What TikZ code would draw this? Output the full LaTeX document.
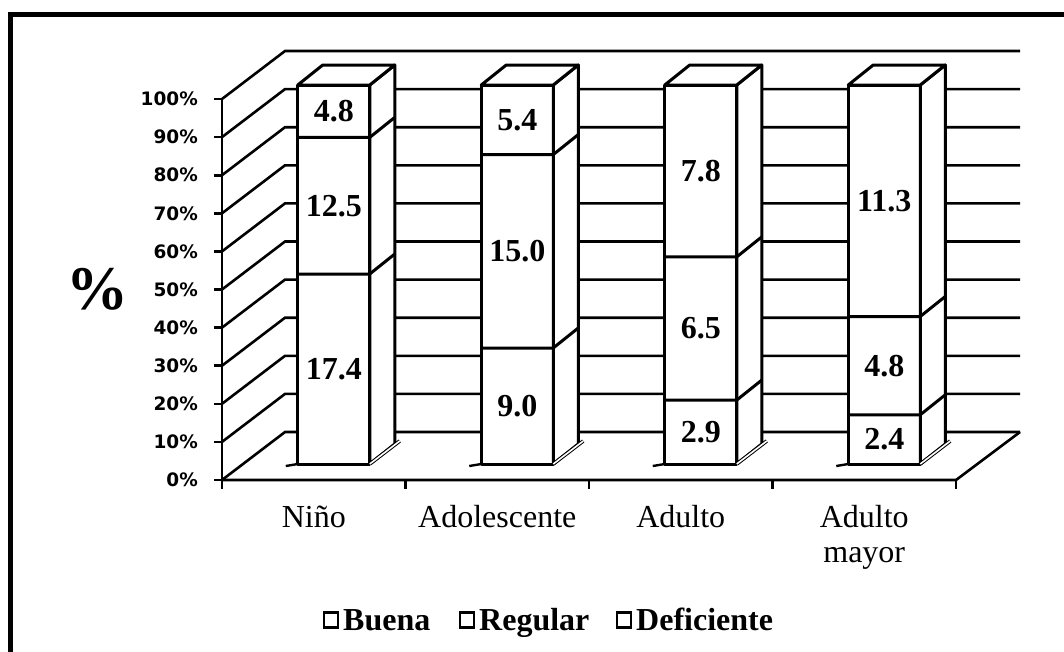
\documentclass[tikz,border=0pt]{standalone}
\usepackage{fontspec}
\setmainfont{Liberation Serif}
\newfontfamily\axisfont{DejaVu Sans}
\begin{document}
\begin{tikzpicture}[x=1pt,y=-1pt,
  gridln/.style={line width=2.6pt},
  barln/.style={line width=3pt, line join=round},
  framel/.style={line width=5pt},
  ticklab/.style={anchor=east, font=\axisfont\bfseries\fontsize{18.5}{22}\selectfont, inner sep=0},
  catlab/.style={font=\fontsize{32}{38}\selectfont, inner sep=0, anchor=base},
  vallab/.style={font=\bfseries\fontsize{32}{36}\selectfont, inner sep=0},
  legbox/.style={draw, line width=2.4pt, minimum width=14pt, minimum height=15pt, inner sep=0},
  legtext/.style={font=\bfseries\fontsize{32}{36}\selectfont, inner sep=0, anchor=base west}
]
\useasboundingbox (0,0) rectangle (1064,651);
\fill[white] (0,0) rectangle (1064,651);
\begin{scope}
\clip (0,0) rectangle (1064,651);
\draw[framel] (10,700) -- (10,14) -- (1100,14);
\end{scope}
% walls and gridlines
\foreach \k in {0,...,10} {
  \draw[gridln] (222,480-38.1*\k) -- (285,432-38.1*\k) -- (1020,432-38.1*\k);
}
% floor
\draw[gridln] (222,480) -- (956,480) -- (1020,432);
% y axis
\draw[gridln] (222,99) -- (222,480);
\foreach \k/\t in {0/0\%,1/10\%,2/20\%,3/30\%,4/40\%,5/50\%,6/60\%,7/70\%,8/80\%,9/90\%,10/100\%} {
  \draw[gridln] (214,480-38.1*\k) -- (222,480-38.1*\k);
  \node[ticklab] (yl\k) at (198,480-38.1*\k) {\t};
}
% category ticks
\foreach \c in {222,405.5,589,772.5,956} {
  \draw[gridln] (\c,480) -- (\c,489);
}
% bars
\foreach \L/\ba/\bb/\i/\va/\vb/\vc in {
  297.75/274.0/137.4/1/17.4/12.5/4.8,
  481.25/348.0/154.6/2/9.0/15.0/5.4,
  664.75/400.1/256.9/3/2.9/6.5/7.8,
  848.25/414.8/316.5/4/2.4/4.8/11.3} {
  \draw[line width=2.4pt] (\L-12,466) -- (\L,464);
  \filldraw[fill=white, barln] (\L,464) rectangle (\L+72,85);
  \filldraw[fill=white, barln] (\L+72,464) -- (\L+97,444) -- (\L+97,65) -- (\L+72,85) -- cycle;
  \filldraw[fill=white, barln] (\L,85) -- (\L+25,65) -- (\L+97,65) -- (\L+72,85) -- cycle;
  \draw[barln] (\L,\ba) -- (\L+72,\ba) -- (\L+97,\ba-20);
  \draw[barln] (\L,\bb) -- (\L+72,\bb) -- (\L+97,\bb-20);
  \draw[double, line width=1pt, double distance=1.6pt] (\L+72,464) -- (\L+102,441);
  \node[vallab] (va\i) at (\L+36,{(464+\ba)/2}) {\va};
  \node[vallab] (vb\i) at (\L+36,{(\ba+\bb)/2}) {\vb};
  \node[vallab] (vc\i) at (\L+36,{(\bb+85)/2}) {\vc};
}
% axis title
\node[font=\bfseries\fontsize{62}{70}\selectfont, inner sep=0] (ytitle) at (97,289) {\%};
% category labels
\node[catlab] (c1) at (313.75,527) {Niño};
\node[catlab] (c2) at (497.25,527) {Adolescente};
\node[catlab] (c3) at (680.75,527) {Adulto};
\node[catlab] (c4) at (864.25,527) {Adulto};
\node[catlab] (c4b) at (864.25,562) {mayor};
% legend
\node[legbox] (s1) at (331,620) {};
\node[legtext] (t1) at (343,630) {Buena};
\node[legbox] (s2) at (467,620) {};
\node[legtext] (t2) at (479,630) {Regular};
\node[legbox] (s3) at (624,620) {};
\node[legtext] (t3) at (636,630) {Deficiente};
\end{tikzpicture}
\end{document}
